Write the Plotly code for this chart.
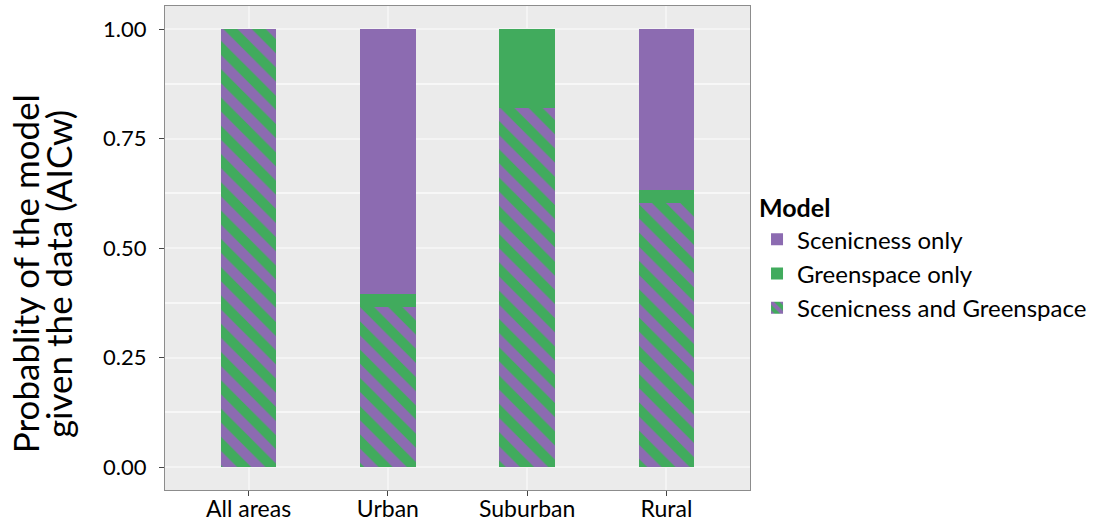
import plotly.graph_objects as go

categories = ["All areas", "Urban", "Suburban", "Rural"]
both_vals = [1.00, 0.365, 0.82, 0.603]
green_vals = [0.00, 0.030, 0.18, 0.029]
scenic_vals = [0.00, 0.605, 0.00, 0.368]
y_ticks = [0, 0.25, 0.5, 0.75, 1.0]
y_tick_labels = ["0.00", "0.25", "0.50", "0.75", "1.00"]
title_lines = ["Probablity of the model", "given the data (AICw)"]

PURPLE = "#8C6BB1"
GREEN = "#41AB5D"
FONT = "Lato"

fig = go.Figure()
fig.add_trace(go.Bar(
    x=categories, y=both_vals, name="Scenicness and Greenspace",
    width=0.4,
    marker=dict(color=GREEN, line=dict(width=0),
                pattern=dict(shape="\\", fgcolor=PURPLE, bgcolor=GREEN,
                             size=20, solidity=0.5, fillmode="replace")),
))
fig.add_trace(go.Bar(
    x=categories, y=green_vals, name="Greenspace only", width=0.4,
    marker=dict(color=GREEN, line=dict(width=0)),
))
fig.add_trace(go.Bar(
    x=categories, y=scenic_vals, name="Scenicness only", width=0.4,
    marker=dict(color=PURPLE, line=dict(width=0)),
))

fig.update_layout(
    barmode="stack",
    width=1104, height=524,
    margin=dict(l=165, r=354, t=6, b=34),
    paper_bgcolor="white",
    plot_bgcolor="#EBEBEB",
    font=dict(family=FONT, size=22, color="black"),
    legend=dict(
        title=dict(text="<b>Model</b>", font=dict(size=25)),
        traceorder="reversed",
        x=1.012, y=0.48, xanchor="left", yanchor="middle",
        font=dict(size=24), tracegroupgap=0, itemwidth=30,
        bgcolor="rgba(0,0,0,0)",
    ),
    showlegend=True,
)

fig.update_xaxes(
    range=[-0.6, 3.6], showline=True, mirror=True, linecolor="#8C8C8C",
    linewidth=1, ticks="outside", ticklen=5, tickcolor="#444444",
    showgrid=True, gridcolor="#F4F4F4", gridwidth=1.5,
    tickfont=dict(size=23, color="black"), automargin=False,
    ticklabelstandoff=-7,
)
fig.update_yaxes(
    range=[-0.0525, 1.0525], tickvals=y_ticks, ticktext=y_tick_labels,
    showline=True, mirror=True, linecolor="#8C8C8C", linewidth=1,
    ticks="outside", ticklen=5, tickcolor="#444444",
    showgrid=True, gridcolor="#F4F4F4", gridwidth=1.5,
    minor=dict(tickvals=[0.125, 0.375, 0.625, 0.875], showgrid=True,
               gridcolor="#F7F7F7", gridwidth=1.5),
    zeroline=False, automargin=False,
    tickfont=dict(size=22, color="black"),
    ticklabelstandoff=8,
)

# two-line y-axis title with tight line spacing
for xpos, line in zip([-0.2393, -0.1830], title_lines):
    fig.add_annotation(
        text=line, xref="paper", yref="paper", x=xpos, y=0.446,
        xanchor="center", yanchor="middle", textangle=-90, showarrow=False,
        font=dict(size=35, family=FONT, color="black"),
    )

fig.write_html("out.html", config={"displayModeBar": False},
               post_script="document.body.style.margin='0';")
